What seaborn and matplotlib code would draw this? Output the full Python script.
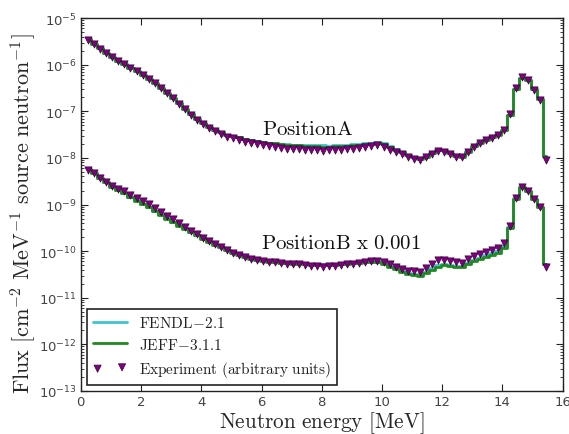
import numpy as np
import pandas as pd
import seaborn as sns
import matplotlib.pyplot as plt

# bin centres [MeV]
energy = [0.25, 0.45, 0.65, 0.85, 1.05, 1.25, 1.45, 1.65, 1.85, 2.05,
          2.25, 2.45, 2.65, 2.85, 3.05, 3.25, 3.45, 3.65, 3.85, 4.05,
          4.25, 4.45, 4.65, 4.85, 5.05, 5.25, 5.45, 5.65, 5.85, 6.05,
          6.25, 6.45, 6.65, 6.85, 7.05, 7.25, 7.45, 7.65, 7.85, 8.05,
          8.25, 8.45, 8.65, 8.85, 9.05, 9.25, 9.45, 9.65, 9.85, 10.05,
          10.25, 10.45, 10.65, 10.85, 11.05, 11.25, 11.45, 11.65, 11.85, 12.05,
          12.25, 12.45, 12.65, 12.85, 13.05, 13.25, 13.45, 13.65, 13.85, 14.05,
          14.25, 14.45, 14.65, 14.85, 15.05, 15.25, 15.45]

# log10 of flux
posA_exp = [-5.47, -5.56, -5.66, -5.75, -5.84, -5.91, -5.99, -6.06, -6.14, -6.22,
            -6.30, -6.40, -6.50, -6.61, -6.72, -6.84, -6.95, -7.07, -7.18, -7.27,
            -7.36, -7.43, -7.49, -7.54, -7.58, -7.62, -7.65, -7.68, -7.70, -7.72,
            -7.74, -7.76, -7.78, -7.80, -7.81, -7.80, -7.83, -7.82, -7.84, -7.85,
            -7.83, -7.82, -7.84, -7.81, -7.80, -7.79, -7.77, -7.75, -7.73, -7.76,
            -7.82, -7.87, -7.92, -7.97, -8.02, -8.05, -7.98, -7.92, -7.85, -7.87,
            -7.92, -7.97, -7.99, -7.88, -7.76, -7.68, -7.62, -7.57, -7.51, -7.40,
            -7.05, -6.50, -6.27, -6.33, -6.55, -6.75, -8.05]
posA_jeff = [-5.45, -5.55, -5.65, -5.74, -5.83, -5.91, -5.98, -6.06, -6.14, -6.22,
             -6.30, -6.40, -6.50, -6.61, -6.72, -6.83, -6.95, -7.06, -7.16, -7.25,
             -7.33, -7.40, -7.45, -7.50, -7.53, -7.56, -7.59, -7.61, -7.63, -7.65,
             -7.67, -7.69, -7.70, -7.72, -7.73, -7.73, -7.74, -7.74, -7.75, -7.76,
             -7.76, -7.75, -7.75, -7.74, -7.73, -7.72, -7.71, -7.70, -7.68, -7.70,
             -7.76, -7.82, -7.88, -7.94, -7.99, -8.02, -7.97, -7.90, -7.83, -7.84,
             -7.90, -7.95, -7.97, -7.87, -7.75, -7.67, -7.61, -7.56, -7.50, -7.40,
             -7.08, -6.52, -6.28, -6.32, -6.53, -6.73, -7.95]
posA_fendl = [-5.45, -5.55, -5.65, -5.74, -5.83, -5.91, -5.98, -6.06, -6.14, -6.22,
              -6.30, -6.40, -6.50, -6.61, -6.72, -6.83, -6.95, -7.06, -7.16, -7.25,
              -7.33, -7.40, -7.45, -7.50, -7.53, -7.56, -7.59, -7.61, -7.63, -7.65,
              -7.67, -7.69, -7.70, -7.71, -7.72, -7.72, -7.72, -7.72, -7.73, -7.73,
              -7.74, -7.73, -7.73, -7.72, -7.71, -7.70, -7.69, -7.68, -7.66, -7.69,
              -7.75, -7.81, -7.87, -7.93, -7.98, -8.01, -7.96, -7.89, -7.82, -7.83,
              -7.89, -7.94, -7.96, -7.86, -7.74, -7.66, -7.60, -7.55, -7.49, -7.39,
              -7.07, -6.52, -6.28, -6.32, -6.53, -6.73, -7.95]

posB_exp = [-8.25, -8.33, -8.42, -8.51, -8.60, -8.66, -8.72, -8.79, -8.86, -8.93,
            -8.99, -9.07, -9.15, -9.24, -9.32, -9.40, -9.48, -9.56, -9.64, -9.71,
            -9.78, -9.85, -9.91, -9.97, -10.03, -10.08, -10.12, -10.16, -10.19, -10.21,
            -10.23, -10.24, -10.26, -10.27, -10.28, -10.27, -10.30, -10.31, -10.32, -10.33,
            -10.31, -10.32, -10.29, -10.28, -10.27, -10.25, -10.24, -10.22, -10.21, -10.23,
            -10.28, -10.33, -10.38, -10.42, -10.43, -10.44, -10.36, -10.28, -10.20, -10.18,
            -10.21, -10.24, -10.25, -10.17, -10.11, -10.06, -10.02, -9.98, -9.93, -9.82,
            -9.45, -8.85, -8.62, -8.70, -8.88, -9.05, -10.33]
posB_jeff = [-8.23, -8.32, -8.42, -8.52, -8.62, -8.69, -8.76, -8.84, -8.92, -8.99,
             -9.06, -9.14, -9.22, -9.30, -9.38, -9.45, -9.52, -9.59, -9.66, -9.73,
             -9.80, -9.86, -9.92, -9.98, -10.03, -10.08, -10.12, -10.16, -10.19, -10.21,
             -10.23, -10.24, -10.25, -10.26, -10.27, -10.27, -10.28, -10.29, -10.30, -10.30,
             -10.30, -10.29, -10.28, -10.27, -10.26, -10.25, -10.24, -10.23, -10.23, -10.27,
             -10.33, -10.39, -10.45, -10.50, -10.52, -10.53, -10.47, -10.40, -10.33, -10.30,
             -10.32, -10.34, -10.35, -10.28, -10.22, -10.17, -10.12, -10.08, -10.03, -9.93,
             -9.50, -8.88, -8.63, -8.70, -8.88, -9.05, -10.28]
posB_fendl = [-8.23, -8.32, -8.42, -8.52, -8.61, -8.68, -8.75, -8.83, -8.91, -8.98,
              -9.05, -9.13, -9.21, -9.29, -9.37, -9.44, -9.51, -9.58, -9.65, -9.72,
              -9.79, -9.85, -9.91, -9.97, -10.02, -10.07, -10.11, -10.15, -10.18, -10.20,
              -10.22, -10.23, -10.24, -10.25, -10.26, -10.26, -10.27, -10.28, -10.28, -10.28,
              -10.28, -10.27, -10.26, -10.25, -10.24, -10.23, -10.22, -10.21, -10.21, -10.25,
              -10.31, -10.37, -10.42, -10.47, -10.49, -10.50, -10.44, -10.37, -10.30, -10.27,
              -10.29, -10.31, -10.32, -10.25, -10.19, -10.14, -10.09, -10.05, -10.00, -9.90,
              -9.48, -8.87, -8.63, -8.70, -8.88, -9.05, -10.28]

sns.set_style('ticks')
plt.rcParams['font.family'] = ['DejaVu Sans']
plt.rcParams['mathtext.fontset'] = 'dejavusans'

fig = plt.figure(figsize=(5.69, 4.35), dpi=100)
ax = fig.add_axes([0.142, 0.099, 0.847, 0.857])

cyan = '#3ec3cf'
green = '#1f8a1f'
purple = '#800080'

for name, fendl, jeff, exp in [('A', posA_fendl, posA_jeff, posA_exp),
                                ('B', posB_fendl, posB_jeff, posB_exp)]:
    df = pd.DataFrame({'energy': energy,
                       'fendl': 10 ** np.array(fendl),
                       'jeff': 10 ** np.array(jeff),
                       'exp': 10 ** np.array(exp)})
    first = name == 'A'
    sns.lineplot(data=df, x='energy', y='fendl', ax=ax, color=cyan, lw=2,
                 drawstyle='steps-mid', estimator=None, sort=False,
                 label=r'$\mathrm{FENDL\!-\!2.1}$' if first else None)
    sns.lineplot(data=df, x='energy', y='jeff', ax=ax, color=green, lw=2,
                 drawstyle='steps-mid', estimator=None, sort=False,
                 label=r'$\mathrm{JEFF\!-\!3.1.1}$' if first else None)
    sns.scatterplot(data=df, x='energy', y='exp', ax=ax, marker='v', s=27,
                    color=purple, edgecolor='#3a003a', linewidth=0.5, zorder=5,
                    label=r'$\mathrm{Experiment\ (arbitrary\ units)}$' if first else None)

ax.set_yscale('log')
ax.set_xlim(0, 16)
ax.set_ylim(1e-13, 1e-5)
ax.set_xticks([0, 2, 4, 6, 8, 10, 12, 14, 16])

ax.tick_params(which='both', direction='in', top=True, right=True,
               labelsize=9.5, colors='#222222', labelcolor='#444444', pad=3)
ax.tick_params(which='major', length=5)
ax.tick_params(which='minor', length=2.5)
ax.tick_params(axis='x', which='minor', bottom=False, top=False)
for s in ax.spines.values():
    s.set_color('#222222')
    s.set_linewidth(1.0)

xl = ax.set_xlabel(r'$\mathrm{Neutron\ energy\ [MeV]}$', fontsize=15.3, labelpad=0.5)
yl = ax.set_ylabel(r'$\mathrm{Flux\ [cm^{-2}\ MeV^{-1}\ source\ neutron^{-1}]}$',
                   fontsize=16)
ax.yaxis.set_label_coords(-0.089, 0.477)
xl.set_math_fontfamily('cm')
yl.set_math_fontfamily('cm')

t1 = ax.text(7.52, 10 ** -7.35, r'$\mathrm{PositionA}$', ha='center', va='center',
             fontsize=15, color='#111111')
t2 = ax.text(8.64, 10 ** -9.80, r'$\mathrm{PositionB\ x\ 0.001}$', ha='center',
             va='center', fontsize=15, color='#111111')
t1.set_math_fontfamily('cm')
t2.set_math_fontfamily('cm')

leg = ax.legend(loc='lower left', fontsize=11, scatterpoints=2, fancybox=False,
                framealpha=1, edgecolor='#222222', borderaxespad=0.4,
                handlelength=2.2, labelspacing=0.45)
leg.get_frame().set_linewidth(1.2)
for t in leg.get_texts():
    t.set_math_fontfamily('cm')
    t.set_color('#222222')

fig.savefig('out.png', dpi=100)
